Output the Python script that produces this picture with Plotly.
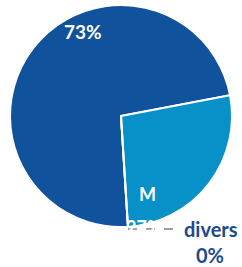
import plotly.graph_objects as go

labels = ["F", "M", "divers"]
values = [73, 27, 0]
colors = ["#10529C", "#0890C8", "#1D4A8E"]

total = sum(values)
pct = [f"{round(100 * v / total)}%" for v in values]

W, H = 242, 267
ML, MR, MT, MB = 10, 10, 5, 40
PW, PH = W - ML - MR, H - MT - MB


def px(x):
    return (x - ML) / PW


def py(y):
    return 1 - (y - MT) / PH


fig = go.Figure(go.Pie(
    labels=labels,
    values=values,
    sort=False,
    direction="clockwise",
    rotation=176.4,
    marker=dict(colors=colors, line=dict(color="white", width=2)),
    textinfo="none",
    showlegend=False,
    hoverinfo="label+percent",
))

fnt = "Lato"
annotations = [
    dict(x=83, y=32, text=f"<b>{pct[0]}</b>", font=dict(color="white", size=19, family=fnt)),
    dict(x=147, y=194, text=f"<b>{labels[1]}</b>", font=dict(color="white", size=18, family=fnt)),
    dict(x=144, y=227, text=f"<b>{pct[1]}</b>", font=dict(color="white", size=18, family=fnt)),
    dict(x=211, y=229, text=f"<b>{labels[2]}</b>", font=dict(color=colors[2], size=20, family=fnt)),
    dict(x=210, y=255, text=f"<b>{pct[2]}</b>", font=dict(color=colors[2], size=20, family=fnt)),
]
for a in annotations:
    a.update(xref="paper", yref="paper", showarrow=False,
             xanchor="center", yanchor="middle")
    a["x"] = px(a["x"])
    a["y"] = py(a["y"])

fig.update_layout(
    width=W, height=H,
    margin=dict(l=ML, r=MR, t=MT, b=MB, pad=0),
    paper_bgcolor="white",
    annotations=annotations,
    shapes=[dict(type="line", xref="paper", yref="paper",
                 x0=px(128), x1=px(178), y0=py(229), y1=py(229),
                 line=dict(color="#A0A0A0", width=2, dash="dash"))],
)
fig.write_html("out.html",
               config={"displayModeBar": False},
               post_script="document.body.style.margin='0';document.body.style.overflow='hidden';")
